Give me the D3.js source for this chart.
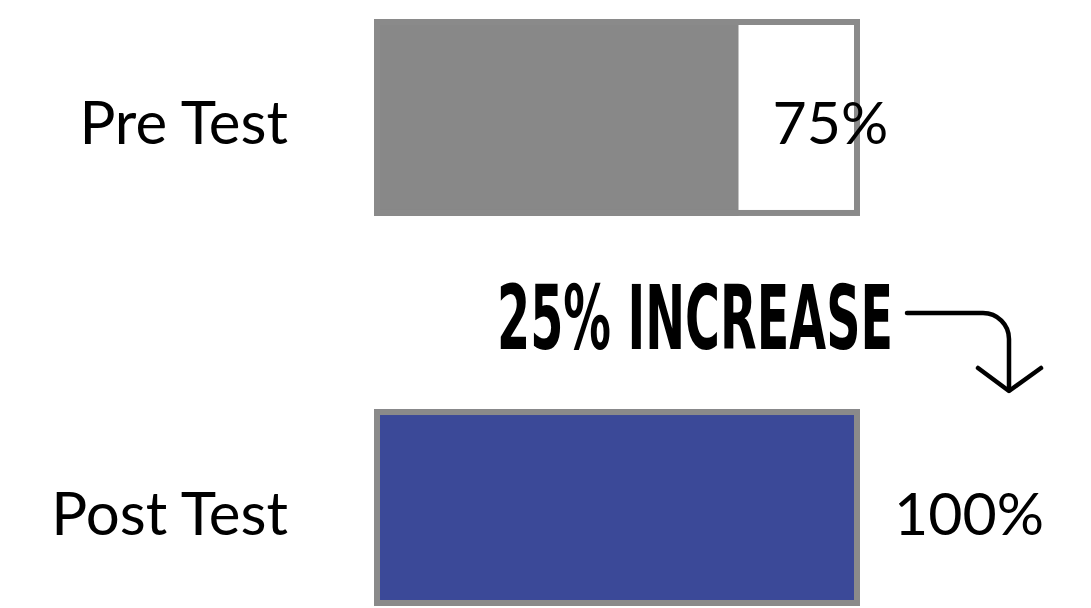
<!DOCTYPE html>
<html>
<head>
<meta charset="utf-8">
<script src="https://cdn.jsdelivr.net/npm/d3@7"></script>
<style>
  html, body { margin: 0; padding: 0; background: #ffffff; }
  svg { display: block; }
</style>
</head>
<body>
<svg id="chart" width="1091" height="608"></svg>
<script>
// Test scores, in percent
const categories = ["Pre Test", "Post Test"];
const values = [75, 100];
const barColors = ["#888888", "#3b4998"];
const valueLabels = ["75%", "100%"];
const annotation = "25% INCREASE";

const svg = d3.select("#chart");
const borderW = 6;
const borderColor = "#8a8a8a";

const x = d3.scaleLinear().domain([0, 100]).range([374, 860]);
const y = d3.scaleBand().domain(categories).range([19, 606]).paddingInner(0.495).paddingOuter(0);

const rows = svg.selectAll("g.row")
  .data(categories.map((c, i) => ({ c, v: values[i], color: barColors[i], label: valueLabels[i] })))
  .join("g")
  .attr("class", "row");

// white track
rows.append("rect")
  .attr("x", x(0))
  .attr("y", d => y(d.c))
  .attr("width", x(100) - x(0))
  .attr("height", y.bandwidth())
  .attr("fill", "#ffffff");

// value fill
rows.append("rect")
  .attr("x", x(0))
  .attr("y", d => y(d.c))
  .attr("width", d => x(d.v) - x(0))
  .attr("height", y.bandwidth())
  .attr("fill", d => d.color);

// frame
rows.append("rect")
  .attr("x", x(0) + borderW / 2)
  .attr("y", d => y(d.c) + borderW / 2)
  .attr("width", x(100) - x(0) - borderW)
  .attr("height", y.bandwidth() - borderW)
  .attr("fill", "none")
  .attr("stroke", borderColor)
  .attr("stroke-width", borderW);

// category labels
rows.append("text")
  .attr("x", 288)
  .attr("y", d => y(d.c) + y.bandwidth() / 2 + 27)
  .attr("text-anchor", "end")
  .attr("font-family", "Lato, sans-serif")
  .attr("font-size", 60)
  .attr("fill", "#000000")
  .text(d => d.c);

// value labels
rows.append("text")
  .attr("x", d => x(d.v) + 34)
  .attr("y", d => y(d.c) + y.bandwidth() / 2 + 27)
  .attr("text-anchor", "start")
  .attr("font-family", "Lato, sans-serif")
  .attr("font-size", 59)
  .attr("fill", "#000000")
  .text(d => d.label);

// change annotation, squeezed horizontally into a condensed look
const titleLeft = 497, titleWidth = 396;
const title = svg.append("text")
  .attr("x", 0)
  .attr("y", 0)
  .attr("font-family", "'Liberation Sans Narrow', 'DejaVu Sans Condensed', sans-serif")
  .attr("font-weight", "bold")
  .attr("font-size", 89)
  .attr("fill", "#000000")
  .text(annotation);
const natural = title.node().getComputedTextLength();
title.attr("transform", `translate(${titleLeft},349) scale(${titleWidth / natural},1)`);

// curved arrow pointing to the post-test bar
const arrow = svg.append("g")
  .attr("fill", "none")
  .attr("stroke", "#000000")
  .attr("stroke-width", 4.5)
  .attr("stroke-linecap", "round")
  .attr("stroke-linejoin", "round");

arrow.append("path").attr("d", "M907,313 H983 A26,26 0 0 1 1009,339 V390");
arrow.append("path").attr("d", "M978,368 L1009,391 L1041,368");
</script>
</body>
</html>
